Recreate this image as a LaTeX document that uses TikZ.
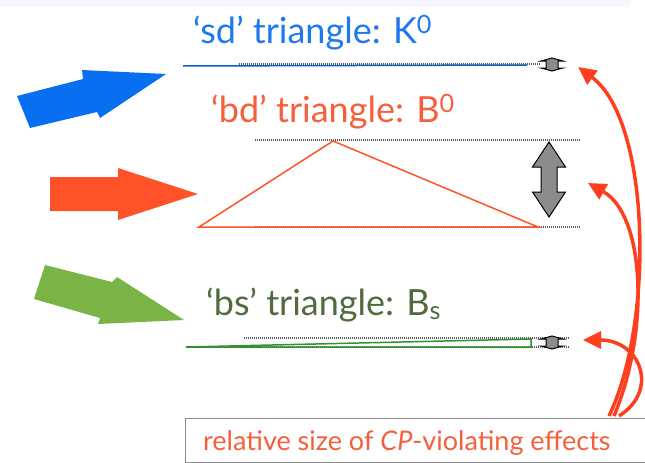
\documentclass[tikz,border=0pt]{standalone}
\usepackage{fontspec}
\setmainfont{Lato}
\usetikzlibrary{arrows.meta,calc}
\definecolor{kblue}{RGB}{8,112,240}
\definecolor{ktext}{RGB}{30,120,240}
\definecolor{bred}{RGB}{255,82,40}
\definecolor{btext}{RGB}{245,95,60}
\definecolor{bsgreen}{RGB}{122,180,70}
\definecolor{bsline}{RGB}{50,145,50}
\definecolor{bstext}{RGB}{80,108,62}
\definecolor{cpred}{RGB}{255,62,30}
% grey double arrow: x, top, bottom, head half width, shaft half width, head length
\newcommand\dblarrow[6]{%
  \filldraw[sizearrow] (#1,#2) -- (#1+#4,#2+#6) -- (#1+#5,#2+#6) -- (#1+#5,#3-#6)
    -- (#1+#4,#3-#6) -- (#1,#3) -- (#1-#4,#3-#6) -- (#1-#5,#3-#6)
    -- (#1-#5,#2+#6) -- (#1-#4,#2+#6) -- cycle;}

\begin{document}
\begin{tikzpicture}[x=1pt,y=-1pt,
  title/.style={anchor=base west,inner sep=0pt,font=\fontsize{36}{40}\selectfont},
  dots/.style={dash pattern=on 1pt off 1pt,line width=1.2pt,black!65},
  sizearrow/.style={fill=black!45,draw=black,line width=1pt},
  effect/.style={cpred,line width=3.5pt,-{Triangle[length=18pt,width=17pt]}}]
\useasboundingbox (0,0) rectangle (645,463);
\fill[blue!3] (0,0) rectangle (630,7);
% big arrows
\fill[kblue] (17,96) -- (83,79) -- (82,70) -- (166,74) -- (100,118) -- (97,112) -- (30,128) -- cycle;
\fill[bred] (50,177) -- (118,177) -- (118,168) -- (198,194) -- (118,220) -- (118,211) -- (50,211) -- cycle;
\fill[bsgreen] (45,265) -- (112,282) -- (117,277) -- (184,320) -- (98,324) -- (100,318) -- (34,299) -- cycle;
% titles
\node[title,text=ktext] (sdTitle) at (193,43) {`sd' triangle: K\textsuperscript{0}};
\node[title,text=btext] (bdTitle) at (211,122) {`bd' triangle: B\textsuperscript{0}};
\node[title,text=bstext] (bsTitle) at (206,315) {`bs' triangle: B\textsubscript{s}};
% sd triangle
\draw[kblue!85!black,line width=1.5pt] (183,66) -- (527,65);
\draw[dots] (239,64) -- (540,64);
\dblarrow{552}{58}{71}{11}{6}{3}
% bd triangle
\draw[dots] (255,140) -- (580,140);
\draw[dots] (255,227) -- (580,227);
\draw[bred,line width=1.5pt] (199,227) -- (333,141) -- (538,227) -- cycle;
\dblarrow{549}{142}{217}{16.5}{8}{25}
% bs triangle
\draw[dots] (244,338) -- (570,338);
\draw[dots] (244,347) -- (570,347);
\draw[bsline,line width=1.5pt] (186,347) -- (531,339) -- (531,347) -- cycle;
\dblarrow{552}{336}{349}{11}{6}{3}
% caption box
\draw[black!45,line width=1pt] (185,418) rectangle (660,462);
\node[anchor=base west,inner sep=0pt,text=btext,font=\fontsize{27}{30}\selectfont] (effects) at (203,450) {relative size of \textit{CP}-violating effects};
% curved arrows
\coordinate (kEnd) at (578,67);
\coordinate (bEnd) at (588,183);
\coordinate (bsEnd) at (583,340);
\coordinate (s1) at (609,416);
\coordinate (s2) at (614,416);
\coordinate (s3) at (619,416);
\draw[effect] (s1) .. controls (655,320) and (650,120) .. (kEnd);
\draw[effect] (s2) .. controls (650,330) and (645,215) .. (bEnd);
\draw[effect] (s3) .. controls (660,390) and (640,340) .. (bsEnd);
\end{tikzpicture}
\end{document}
